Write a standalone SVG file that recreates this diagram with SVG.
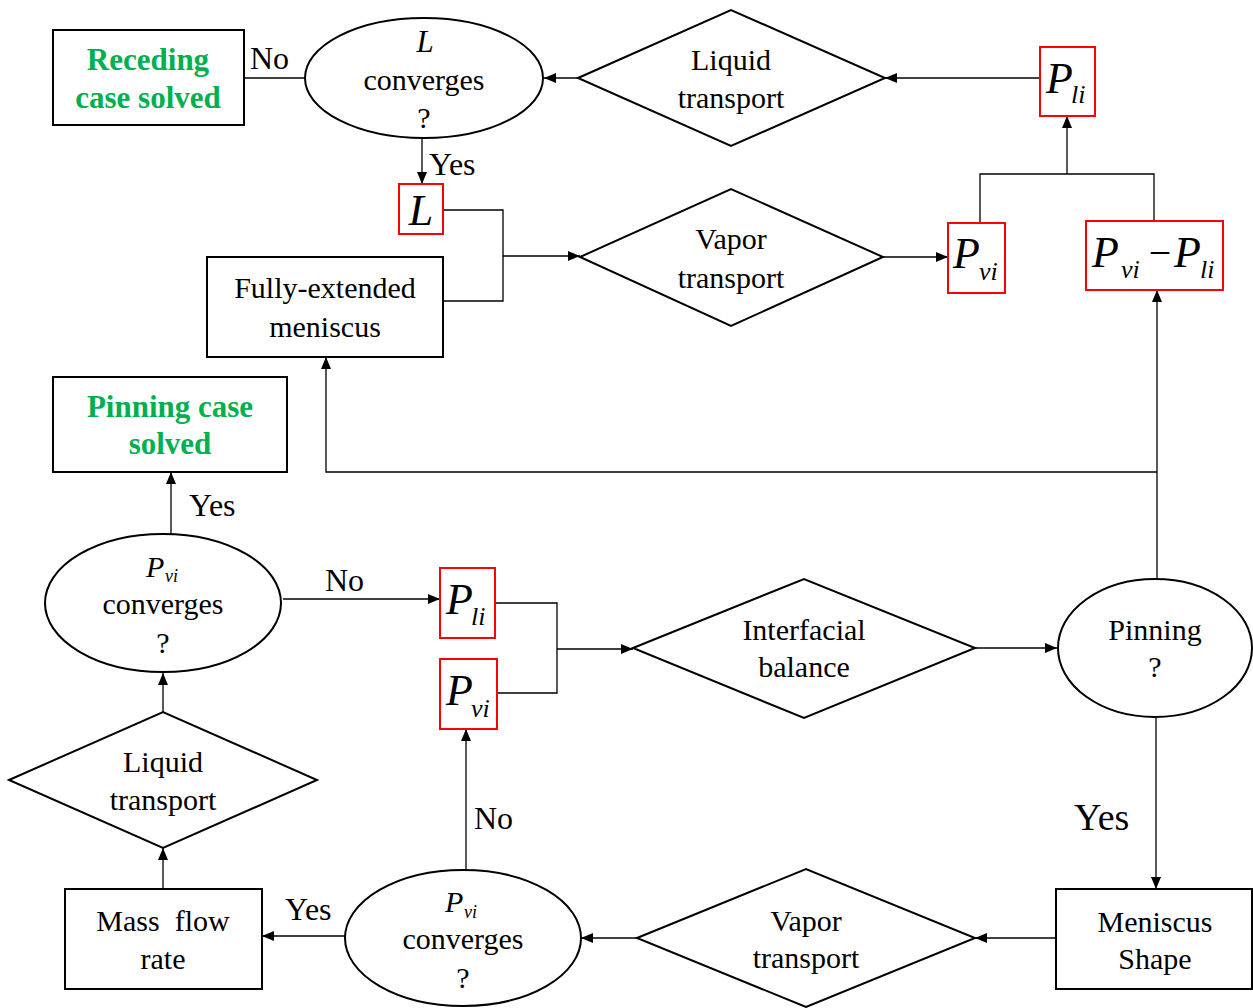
<svg xmlns="http://www.w3.org/2000/svg" width="1253" height="1008" viewBox="0 0 1253 1008">
<style>
.bg{fill:#fff}
.shape{fill:#fff;stroke:#000;stroke-width:2}
.red{fill:#fff;stroke:#f00;stroke-width:2}
.con{fill:none;stroke:#000;stroke-width:1.3}
.t{font-size:30px;fill:#000;text-anchor:middle}
.g{font-size:31px;font-weight:bold;fill:#00b050;text-anchor:middle}
.lbl{font-size:32px;fill:#000}
.big{font-size:38px;fill:#000}
.m{font-style:italic;fill:#000}
.P{font-size:44px}
.sub{font-size:26px}
.Ps{font-size:30px}
.subs{font-size:18px}
</style>
<defs>
<marker id="ah" markerWidth="12" markerHeight="10" refX="12" refY="5" orient="auto" markerUnits="userSpaceOnUse"><path d="M0,0 L12,5 L0,10 z" fill="#000"/></marker>
</defs>
<rect class="bg" x="0" y="0" width="1253" height="1008"/>
<g font-family="'Liberation Serif', 'Tinos', 'Times New Roman', 'DejaVu Serif', serif">

<g id="connectors">
<path class="con" d="M244,78 H305"/>
<path class="con" d="M578,78 H544" marker-end="url(#ah)"/>
<path class="con" d="M1040,78 H885" marker-end="url(#ah)"/>
<path class="con" d="M422,138 V184" marker-end="url(#ah)"/>
<path class="con" d="M443,210 H503 V301 H443"/>
<path class="con" d="M503,256 H580" marker-end="url(#ah)"/>
<path class="con" d="M883,257 H948" marker-end="url(#ah)"/>
<path class="con" d="M980,223 V174 H1154 V221"/>
<path class="con" d="M1067,174 V116" marker-end="url(#ah)"/>
<path class="con" d="M1157,579 V290" marker-end="url(#ah)"/>
<path class="con" d="M1157,472 H326 V357" marker-end="url(#ah)"/>
<path class="con" d="M171,534 V472" marker-end="url(#ah)"/>
<path class="con" d="M283,599 H440" marker-end="url(#ah)"/>
<path class="con" d="M495,603 H557 V693 H497"/>
<path class="con" d="M557,649 H633" marker-end="url(#ah)"/>
<path class="con" d="M975,648 H1057" marker-end="url(#ah)"/>
<path class="con" d="M1156,718 V889" marker-end="url(#ah)"/>
<path class="con" d="M1056,938 H975" marker-end="url(#ah)"/>
<path class="con" d="M637,938 H581" marker-end="url(#ah)"/>
<path class="con" d="M466,870 V729" marker-end="url(#ah)"/>
<path class="con" d="M345,936 H262" marker-end="url(#ah)"/>
<path class="con" d="M163,889 V848" marker-end="url(#ah)"/>
<path class="con" d="M163,712 V673" marker-end="url(#ah)"/>
<text class="lbl" x="250" y="69">No</text>
<text class="lbl" x="429" y="175">Yes</text>
<text class="lbl" x="189" y="516">Yes</text>
<text class="lbl" x="325" y="591">No</text>
<text class="big" x="1074" y="830">Yes</text>
<text class="lbl" x="285" y="920">Yes</text>
<text class="lbl" x="474" y="829">No</text>
</g>

<g id="receding">
<rect class="shape" x="53" y="30" width="191" height="95"/>
<text class="g" x="148" y="70">Receding</text>
<text class="g" x="148" y="108">case solved</text>
</g>

<g id="L-converges">
<ellipse class="shape" cx="424" cy="78" rx="119" ry="60"/>
<text class="m" x="425" y="52" font-size="31" text-anchor="middle">L</text>
<text class="t" x="424" y="90">converges</text>
<text class="t" x="424" y="128">?</text>
</g>

<g id="liquid-transport-top">
<polygon class="shape" points="578,78 731,10 885,78 731,146"/>
<text class="t" x="731" y="70">Liquid</text>
<text class="t" x="731" y="108">transport</text>
</g>

<g id="Pli-top">
<rect class="red" x="1040" y="47" width="55" height="69"/>
<text class="m"><tspan class="P" x="1046" y="93">P</tspan><tspan class="sub" x="1071" y="103">li</tspan></text>
</g>

<g id="L-box">
<rect class="red" x="399" y="184" width="44" height="50"/>
<text class="m" x="421" y="225" font-size="44" text-anchor="middle">L</text>
</g>

<g id="fully-extended">
<rect class="shape" x="207" y="257" width="236" height="100"/>
<text class="t" x="325" y="298">Fully-extended</text>
<text class="t" x="325" y="337">meniscus</text>
</g>

<g id="vapor-transport-top">
<polygon class="shape" points="580,257 731,189 883,257 731,326"/>
<text class="t" x="731" y="249">Vapor</text>
<text class="t" x="731" y="288">transport</text>
</g>

<g id="Pvi-top">
<rect class="red" x="948" y="223" width="57" height="70"/>
<text class="m"><tspan class="P" x="953" y="268">P</tspan><tspan class="sub" x="979" y="280">vi</tspan></text>
</g>

<g id="Pvi-minus-Pli">
<rect class="red" x="1086" y="221" width="137" height="69"/>
<text class="m"><tspan class="P" x="1092" y="267">P</tspan><tspan class="sub" x="1121" y="278">vi</tspan></text>
<text x="1160" y="266" font-size="40" text-anchor="middle">−</text>
<text class="m"><tspan class="P" x="1174" y="267">P</tspan><tspan class="sub" x="1200" y="278">li</tspan></text>
</g>

<g id="pinning-solved">
<rect class="shape" x="53" y="377" width="234" height="95"/>
<text class="g" x="170" y="417">Pinning case</text>
<text class="g" x="170" y="454">solved</text>
</g>

<g id="Pvi-converges-mid">
<ellipse class="shape" cx="163" cy="603" rx="118" ry="69"/>
<text class="m"><tspan class="Ps" x="146" y="577">P</tspan><tspan class="subs" x="165" y="582">vi</tspan></text>
<text class="t" x="163" y="614">converges</text>
<text class="t" x="163" y="653">?</text>
</g>

<g id="Pli-mid">
<rect class="red" x="440" y="568" width="55" height="70"/>
<text class="m"><tspan class="P" x="446" y="614">P</tspan><tspan class="sub" x="471" y="625">li</tspan></text>
</g>

<g id="Pvi-mid">
<rect class="red" x="440" y="659" width="57" height="70"/>
<text class="m"><tspan class="P" x="446" y="705">P</tspan><tspan class="sub" x="471" y="717">vi</tspan></text>
</g>

<g id="interfacial-balance">
<polygon class="shape" points="633,648 804,579 975,648 804,718"/>
<text class="t" x="804" y="640">Interfacial</text>
<text class="t" x="804" y="677">balance</text>
</g>

<g id="pinning">
<ellipse class="shape" cx="1155" cy="648" rx="97" ry="69"/>
<text class="t" x="1155" y="640">Pinning</text>
<text class="t" x="1155" y="677">?</text>
</g>

<g id="liquid-transport-bottom">
<polygon class="shape" points="9,780 163,712 317,780 163,848"/>
<text class="t" x="163" y="772">Liquid</text>
<text class="t" x="163" y="810">transport</text>
</g>

<g id="mass-flow-rate">
<rect class="shape" x="65" y="889" width="197" height="100"/>
<text class="t" x="163" y="931" xml:space="preserve">Mass  flow</text>
<text class="t" x="163" y="969">rate</text>
</g>

<g id="Pvi-converges-bottom">
<ellipse class="shape" cx="463" cy="938" rx="118" ry="68"/>
<text class="m"><tspan class="Ps" x="445" y="912">P</tspan><tspan class="subs" x="464" y="918">vi</tspan></text>
<text class="t" x="463" y="949">converges</text>
<text class="t" x="463" y="988">?</text>
</g>

<g id="vapor-transport-bottom">
<polygon class="shape" points="637,938 806,869 975,938 806,1007"/>
<text class="t" x="806" y="931">Vapor</text>
<text class="t" x="806" y="968">transport</text>
</g>

<g id="meniscus-shape">
<rect class="shape" x="1056" y="889" width="196" height="100"/>
<text class="t" x="1155" y="932">Meniscus</text>
<text class="t" x="1155" y="969">Shape</text>
</g>
</g>
</svg>
